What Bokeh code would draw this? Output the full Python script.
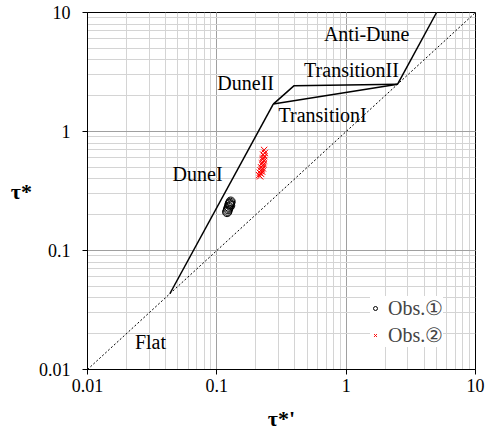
from bokeh.plotting import figure
from bokeh.models import Range1d, LogTicker, CustomJSTickFormatter, Legend, LegendItem, LabelSet, ColumnDataSource
from bokeh.embed import file_html
from bokeh.resources import INLINE

FONT = "Liberation Serif"

# Observations
obs1_x = [0.128, 0.127, 0.126, 0.125, 0.127, 0.124, 0.123, 0.122, 0.121, 0.120]
obs1_y = [0.258, 0.252, 0.247, 0.243, 0.238, 0.233, 0.228, 0.222, 0.215, 0.210]

obs2_x = [0.232, 0.235, 0.228, 0.233, 0.230, 0.226, 0.232, 0.228, 0.223, 0.230,
          0.226, 0.220, 0.227, 0.223, 0.218, 0.224, 0.215, 0.220, 0.212, 0.216]
obs2_y = [0.70, 0.66, 0.64, 0.62, 0.60, 0.585, 0.57, 0.555, 0.54, 0.53,
          0.515, 0.50, 0.49, 0.48, 0.47, 0.46, 0.45, 0.44, 0.43, 0.42]

# Regime boundaries
diag_x = [0.01, 10.0]
diag_y = [0.01, 10.0]
duneI_x = [0.0433, 0.273]
duneI_y = [0.0433, 1.70]
transII_x = [0.273, 0.394, 2.5]
transII_y = [1.70, 2.42, 2.5]
transI_x = [0.273, 2.5]
transI_y = [1.70, 2.5]
anti_x = [2.5, 5.0]
anti_y = [2.5, 10.0]

# Regime labels
region_text = ["Anti-Dune", "TransitionII", "DuneII", "TransitionI", "DuneI", "Flat"]
region_x = [1.44, 1.10, 0.167, 0.657, 0.071, 0.0307]
region_y = [6.66, 3.26, 2.58, 1.363, 0.443, 0.0169]

p = figure(frame_width=388, frame_height=357,
           x_axis_type="log", y_axis_type="log",
           x_range=Range1d(0.01, 10), y_range=Range1d(0.01, 10),
           output_backend="svg", toolbar_location=None,
           min_border_left=87, min_border_right=20,
           min_border_top=12, min_border_bottom=60)

p.background_fill_color = "white"
p.border_fill_color = "white"
p.outline_line_color = "black"
p.outline_line_width = 1
p.outline_line_alpha = 1

for ax, grid in ((p.xaxis, p.xgrid), (p.yaxis, p.ygrid)):
    t = LogTicker(num_minor_ticks=10)
    ax.ticker = t
    grid.ticker = t
    ax.formatter = CustomJSTickFormatter(code="return parseFloat(tick.toPrecision(3)).toString();")
    ax.major_label_text_font = FONT
    ax.major_label_text_font_size = "18px"
    ax.major_label_text_color = "black"
    ax.axis_label_text_font = FONT
    ax.axis_label_text_font_size = "22px"
    ax.axis_label_text_font_style = "bold"
    ax.axis_label_text_color = "black"
    ax.axis_line_color = "black"
    ax.major_tick_line_color = "black"
    ax.major_tick_out = 5
    ax.major_tick_in = 0
    ax.minor_tick_line_color = None
    grid.grid_line_color = "#a0a0a0"
    grid.grid_line_width = 1
    grid.minor_grid_line_color = "#d4d4d4"
    grid.minor_grid_line_width = 1

p.xaxis.axis_label = "τ*'"
p.yaxis.axis_label = "τ*"
p.yaxis.axis_label_orientation = "horizontal"
p.xaxis.major_label_standoff = 4
p.yaxis.major_label_standoff = 12
p.xaxis.axis_label_standoff = 11
p.yaxis.axis_label_standoff = 4

p.line(diag_x, diag_y, line_color="black", line_width=1, line_dash="2 2")
for xs, ys in ((duneI_x, duneI_y), (transII_x, transII_y), (transI_x, transI_y), (anti_x, anti_y)):
    p.line(xs, ys, line_color="black", line_width=1.5)

labels = LabelSet(x="x", y="y", text="text",
                  source=ColumnDataSource(dict(x=region_x, y=region_y, text=region_text)),
                  text_font=FONT, text_font_size="20px", text_color="black",
                  text_align="center", text_baseline="middle")
p.add_layout(labels)

r1 = p.scatter(obs1_x, obs1_y, marker="circle", size=9, fill_color=None,
               line_color="black", line_width=1)
r2 = p.scatter(obs2_x, obs2_y, marker="x", size=9, line_color="red", line_width=1)

legend = Legend(items=[LegendItem(label="Obs.①", renderers=[r1]),
                       LegendItem(label="Obs.②", renderers=[r2])],
                location=(283, 22), padding=5, spacing=3,
                glyph_width=10, glyph_height=24, label_height=24,
                label_standoff=8,
                label_text_font=FONT, label_text_font_size="20px",
                background_fill_color="white", background_fill_alpha=1,
                border_line_color=None)
p.add_layout(legend)

open("out.html", "w").write(file_html(p, INLINE))
